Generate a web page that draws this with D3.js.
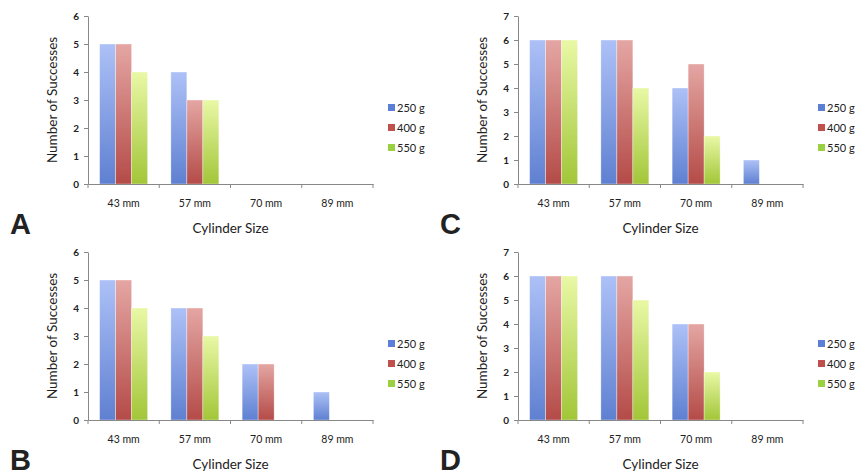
<!DOCTYPE html>
<html>
<head>
<meta charset="utf-8">
<script src="https://d3js.org/d3.v7.min.js"></script>
<style>
  body { margin: 0; background: #fff; }
  svg text { font-family: Lato, "Open Sans", sans-serif; fill: #222; }
</style>
</head>
<body>
<div id="chart"></div>
<script>
var categories = ["43 mm", "57 mm", "70 mm", "89 mm"];
var seriesNames = ["250 g", "400 g", "550 g"];

// values per panel: one array per series, in category order
var panelA = [[5, 4, 0, 0], [5, 3, 0, 0], [4, 3, 0, 0]];
var panelB = [[5, 4, 2, 1], [5, 4, 2, 0], [4, 3, 0, 0]];
var panelC = [[6, 6, 4, 1], [6, 6, 5, 0], [6, 4, 2, 0]];
var panelD = [[6, 6, 4, 0], [6, 6, 4, 0], [6, 5, 2, 0]];

var yMaxA = 6, yMaxB = 6, yMaxC = 7, yMaxD = 7;

var svgWidth = 855;
var svgHeight = 475;

var svg = d3.select("#chart")
            .append("svg")
                .attr("width", svgWidth)
                .attr("height", svgHeight);

var colors = [
  {top: "#adc1f7", bottom: "#5f80d1", legend: "#5b7fd6"},
  {top: "#e4a6a3", bottom: "#b44b48", legend: "#c0504d"},
  {top: "#e9f8a6", bottom: "#a2c638", legend: "#9bd040"}
];

var defs = svg.append("defs");
colors.forEach(function(c, i) {
    var g = defs.append("linearGradient")
        .attr("id", "grad" + i)
        .attr("x1", 0).attr("y1", 0).attr("x2", 0).attr("y2", 1);
    g.append("stop").attr("offset", "0%").attr("stop-color", c.top);
    g.append("stop").attr("offset", "100%").attr("stop-color", c.bottom);
});

function drawPanel(ox, oy, values, yMax, letter) {
    var left = 88, top = 16, width = 285, height = 168;
    var g = svg.append("g").attr("transform", `translate(${ox + left}, ${oy + top})`);

    var x0 = d3.scaleBand().domain(categories).range([0, width]).paddingInner(0).paddingOuter(0);
    var x1 = d3.scaleBand().domain(seriesNames).range([0, 48]);
    var y = d3.scaleLinear().domain([0, yMax]).range([height, 0]);

    var groups = g.selectAll("g.cat")
        .data(categories)
        .enter().append("g")
        .attr("class", "cat")
        .attr("transform", d => `translate(${x0(d) + (x0.bandwidth() - 48) / 2}, 0)`);

    groups.selectAll("rect")
        .data(function(d, ci) { return seriesNames.map((s, si) => ({s: s, si: si, v: values[si][ci]})); })
        .enter().append("rect")
        .filter(d => d.v > 0)
        .attr("x", d => x1(d.s))
        .attr("width", x1.bandwidth())
        .attr("y", d => y(d.v))
        .attr("height", d => height - y(d.v))
        .attr("fill", d => `url(#grad${d.si})`)
        .attr("stroke", "rgba(255,255,255,0.6)")
        .attr("stroke-width", 0.6);

    var leftAxis = d3.axisLeft(y).ticks(yMax).tickSize(4).tickSizeOuter(0);
    var yAxis = g.append("g").call(leftAxis);
    yAxis.select(".domain").attr("stroke", "#888");
    yAxis.selectAll(".tick line").attr("stroke", "#888");
    yAxis.selectAll("text").attr("x", -9).style("font-size", "10px").style("font-weight", "bold").attr("fill", "#333");

    var bottomAxis = d3.axisBottom(x0).tickSize(0).tickSizeOuter(0);
    var xAxis = g.append("g").attr("transform", `translate(0, ${height})`).call(bottomAxis);
    xAxis.select(".domain").attr("stroke", "#888");
    xAxis.selectAll("text").attr("y", 16).style("font-size", "10.5px").attr("fill", "#333");
    // category separators
    xAxis.selectAll(".sep")
        .data(categories.concat(["end"]))
        .enter().append("line")
        .attr("x1", (d, i) => i * x0.bandwidth())
        .attr("x2", (d, i) => i * x0.bandwidth())
        .attr("y1", 0).attr("y2", 4)
        .attr("stroke", "#888");

    g.append("text")
        .attr("transform", "rotate(-90)")
        .attr("x", -height / 2)
        .attr("y", -31)
        .attr("text-anchor", "middle")
        .style("font-size", "13.5px")
        .text("Number of Successes");

    g.append("text")
        .attr("x", width / 2)
        .attr("y", height + 49)
        .attr("text-anchor", "middle")
        .style("font-size", "13.5px")
        .text("Cylinder Size");

    var legend = svg.append("g").attr("transform", `translate(${ox + 388}, ${oy + 108})`);
    seriesNames.forEach(function(s, i) {
        legend.append("rect")
            .attr("x", 0).attr("y", i * 20 - 4)
            .attr("width", 7).attr("height", 7)
            .attr("fill", colors[i].legend);
        legend.append("text")
            .attr("x", 9).attr("y", i * 20 + 4)
            .style("font-size", "11px")
            .text(s);
    });

    svg.append("text")
        .attr("x", ox + 10)
        .attr("y", oy + 234)
        .style("font-family", "'Liberation Sans', Arial, sans-serif")
        .style("font-weight", "bold")
        .style("font-size", "29px")
        .attr("fill", "#000")
        .text(letter);
}

drawPanel(0, 0, panelA, yMaxA, "A");
drawPanel(0, 236, panelB, yMaxB, "B");
drawPanel(430, 0, panelC, yMaxC, "C");
drawPanel(430, 236, panelD, yMaxD, "D");
</script>
</body>
</html>
